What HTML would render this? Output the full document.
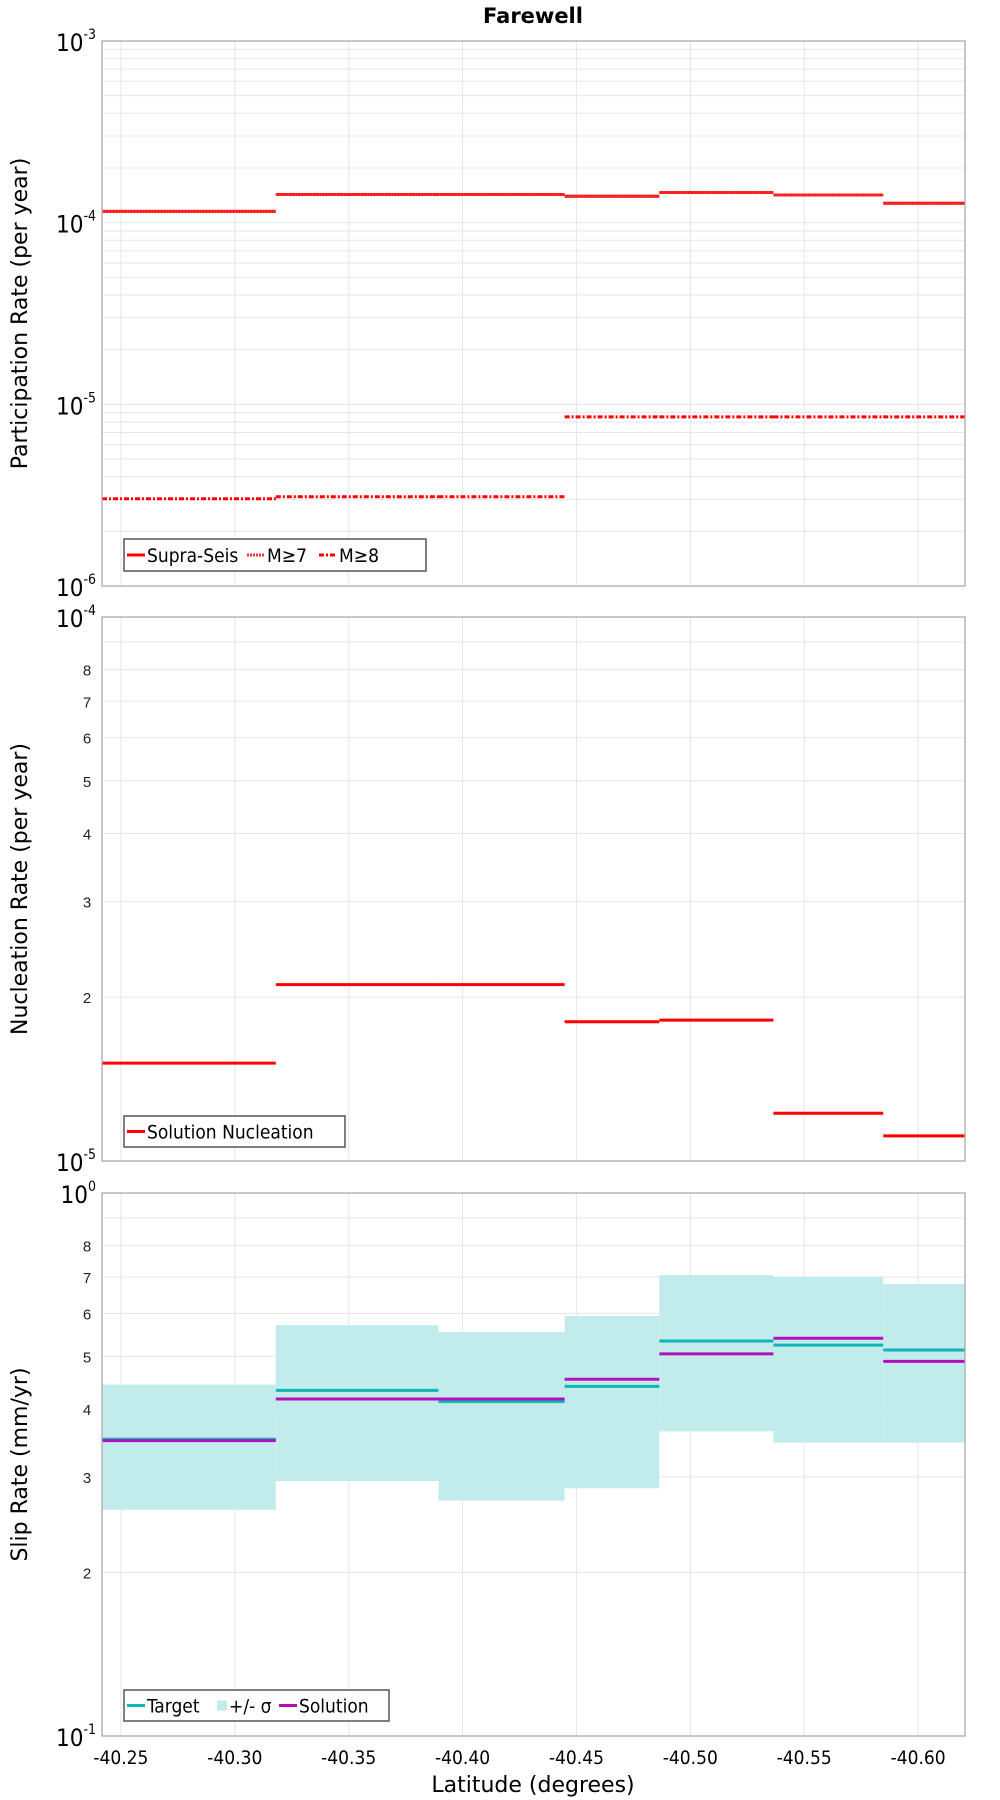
<!DOCTYPE html>
<html><head><meta charset="utf-8"><style>
html,body{margin:0;padding:0;background:#fff;width:1000px;height:1800px;overflow:hidden}
svg{display:block;font-family:"Liberation Sans","DejaVu Sans",sans-serif}
</style></head><body>
<svg id="chart" width="1000" height="1800" viewBox="0 0 1000 1800" xmlns="http://www.w3.org/2000/svg">
<text x="533" y="23" text-anchor="middle" font-size="21" font-weight="bold" font-family="DejaVu Sans, sans-serif">Farewell</text>
<text x="533" y="1792" text-anchor="middle" font-size="22" font-family="DejaVu Sans, sans-serif">Latitude (degrees)</text>
</svg>
<script>
// ---- data ----
const binEdges = [-40.2417, -40.318, -40.3894, -40.4448, -40.4864, -40.5365, -40.5847, -40.6206];
const xTicks = [-40.25, -40.30, -40.35, -40.40, -40.45, -40.50, -40.55, -40.60];
const xTickLabels = ["-40.25","-40.30","-40.35","-40.40","-40.45","-40.50","-40.55","-40.60"];
const supraSeis = [1.154e-4, 1.43e-4, 1.43e-4, 1.397e-4, 1.465e-4, 1.42e-4, 1.28e-4];
const m7 = [1.154e-4, 1.43e-4, 1.43e-4, 1.397e-4, 1.465e-4, 1.42e-4, 1.28e-4];
const m8 = [3.02e-6, 3.1e-6, 3.1e-6, 8.53e-6, 8.53e-6, 8.53e-6, 8.53e-6];
const nucleation = [1.513e-5, 2.11e-5, 2.11e-5, 1.803e-5, 1.815e-5, 1.224e-5, 1.112e-5];
const target = [0.352, 0.433, 0.4128, 0.4405, 0.534, 0.5245, 0.514];
const solution = [0.35, 0.4175, 0.4175, 0.454, 0.5055, 0.540, 0.4897];
const sigmaUpper = [0.4436, 0.571, 0.5548, 0.5935, 0.706, 0.701, 0.680];
const sigmaLower = [0.2609, 0.2949, 0.2713, 0.2858, 0.364, 0.347, 0.347];

const NS = "http://www.w3.org/2000/svg";
const svg = document.getElementById("chart");
const L = 102, R = 965;
function xs(v){ return L + (v - binEdges[0]) / (binEdges[binEdges.length-1] - binEdges[0]) * (R - L); }
function mk(tag, attrs, parent){ const e = document.createElementNS(NS, tag); for (const k in attrs) e.setAttribute(k, attrs[k]); (parent||svg).appendChild(e); return e; }

function panel(top, bottom, lo, hi, name, title, minorLabels){
  const g = mk("g", {});
  
  
  const ys = v => bottom - (Math.log10(v) - lo) / (hi - lo) * (bottom - top);
  // horizontal grid
  for (let d = lo; d < hi; d++) for (let m = 1; m <= 9; m++) {
    const v = m * Math.pow(10, d); const y = ys(v);
    const gl = mk("line", {x1:L, x2:R, y1:y, y2:y, stroke:"#e6e6e6", "stroke-width":1}, g);
    
    
    if (m === 1) {
      const t = mk("text", {x:L-6, y:y+10, "text-anchor":"end", "font-size":24, "font-family":"DejaVu Sans Condensed, DejaVu Sans, sans-serif"}, g);
      
      
      t.innerHTML = '10<tspan dy="-12" font-size="14">' + d + '</tspan>';
    } else if (minorLabels && m >= 2 && m <= 8) {
      const t = mk("text", {x:L-15, y:y+6, "text-anchor":"middle", "font-size":15, fill:"#222"}, g);
      
      
      t.textContent = m;
    }
  }
  const y = ys(Math.pow(10, hi));
  const t = mk("text", {x:L-6, y:y+10, "text-anchor":"end", "font-size":24, "font-family":"DejaVu Sans Condensed, DejaVu Sans, sans-serif"}, g);
  
  
  t.innerHTML = '10<tspan dy="-12" font-size="14">' + hi + '</tspan>';
  xTicks.forEach(v => {
    const vl = mk("line", {x1:xs(v), x2:xs(v), y1:top, y2:bottom, stroke:"#e6e6e6", "stroke-width":1}, g);
    
    
  });
  const cy = (top + bottom) / 2;
  const at = mk("text", {x:27, y:cy, transform:`rotate(-90 27 ${cy})`, "text-anchor":"middle", "font-size":22, "font-family":"DejaVu Sans, sans-serif"}, g);
  
  
  at.textContent = title;
  return {g, ys, top, bottom};
}
function frame(p){
  const r = mk("rect", {x:L, y:p.top, width:R-L, height:p.bottom-p.top, fill:"none", stroke:"#aaa", "stroke-width":1.3}, p.g);
  
  
}
function steps(p, vals, color, name, dash, w){
  vals.forEach((v, i) => {
    const y = p.ys(v);
    const a = {x1:xs(binEdges[i]), x2:xs(binEdges[i+1]), y1:y, y2:y, stroke:color, "stroke-width":w||3};
    if (dash) a["stroke-dasharray"] = dash;
    const l = mk("line", a, p.g);
    
    
  });
}
function legend(p, x, y, w, h, items){
  const lg = mk("g", {}, p.g);
  
  
  const r = mk("rect", {x, y, width:w, height:h, fill:"#fff", stroke:"#555", "stroke-width":1.5}, lg);
  
  
  let cx = x + 3;
  items.forEach(it => {
    const cyy = y + h/2;
    let s;
    if (it.box) s = mk("rect", {x:cx, y:cyy-5, width:10, height:10, fill:it.color}, lg);
    else { const a = {x1:cx, x2:cx+18, y1:cyy, y2:cyy, stroke:it.color, "stroke-width":3}; if (it.dash) a["stroke-dasharray"] = it.dash; s = mk("line", a, lg); }
    
    
    cx += it.box ? 12 : 20;
    const t = mk("text", {x:cx, y:cyy+7, "font-size":19, "font-family":"DejaVu Sans Condensed, DejaVu Sans, sans-serif"}, lg);
    
    
    t.textContent = it.label;
    cx += it.w;
  });
}

// Panel 1
const p1 = panel(41, 586, -6, -3, "participation-panel", "Participation Rate (per year)", false);
steps(p1, supraSeis, "#ff0000", "supra-seis-step", null, 3);
steps(p1, m7, "#ff3030", "m7-step", "2,1", 3);
steps(p1, m8, "#ff0000", "m8-step", "5,2,2,2", 3);
frame(p1);
legend(p1, 124, 539, 302, 32, [{color:"#f00",label:"Supra-Seis",w:100},{color:"#f33",label:"M≥7",dash:"2,1",w:52},{color:"#f00",label:"M≥8",dash:"5,2,2,2",w:50}]);

// Panel 2
const p2 = panel(617, 1161, -5, -4, "nucleation-panel", "Nucleation Rate (per year)", true);
steps(p2, nucleation, "#ff0000", "nucleation-step", null, 3);
frame(p2);
legend(p2, 124, 1116, 221, 31, [{color:"#f00",label:"Solution Nucleation",w:190}]);

// Panel 3
const p3 = panel(1193, 1736, -1, 0, "slip-rate-panel", "Slip Rate (mm/yr)", true);
sigmaUpper.forEach((u, i) => {
  const y1 = p3.ys(u), y2 = p3.ys(sigmaLower[i]);
  const r = mk("rect", {x:xs(binEdges[i]), y:y1, width:xs(binEdges[i+1])-xs(binEdges[i]), height:y2-y1, fill:"#c2eceb"}, p3.g);
  
  
});
steps(p3, target, "#10b5b5", "target-step", null, 3);
steps(p3, solution, "#b010c0", "solution-step", null, 3);
frame(p3);
legend(p3, 124, 1690, 265, 31, [{color:"#10b5b5",label:"Target",w:70},{color:"#c2eceb",label:"+/- σ",box:true,w:50},{color:"#b010c0",label:"Solution",w:80}]);

// x tick labels
xTicks.forEach((v, i) => {
  const t = mk("text", {x:xs(v), y:1764, "text-anchor":"middle", "font-size":19, "font-family":"DejaVu Sans Condensed, DejaVu Sans, sans-serif"});
  
  
  t.textContent = xTickLabels[i];
});
</script>
</body></html>
